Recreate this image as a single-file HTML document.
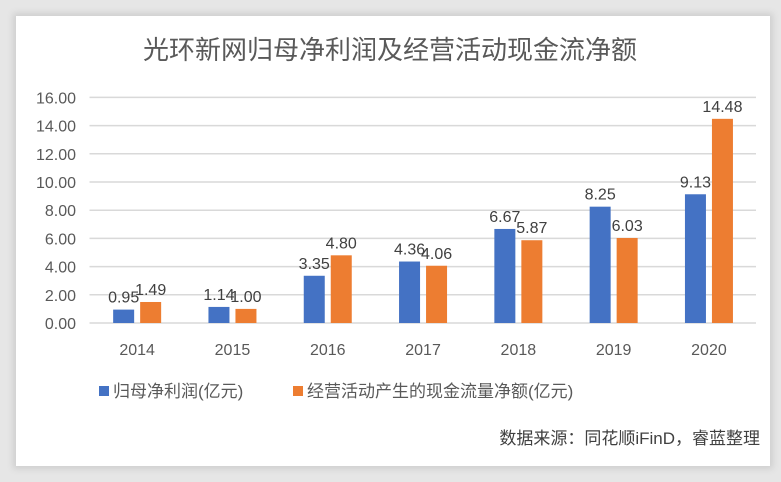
<!DOCTYPE html>
<html><head><meta charset="utf-8"><style>
body{margin:0;width:781px;height:482px;background:#e6e6e6;overflow:hidden;font-family:"Liberation Sans","Noto Sans CJK SC",sans-serif}
#card{position:absolute;left:16px;top:16px;width:754px;height:450px;background:#fff;box-shadow:0 0 6px 3px #cfcfcf}
</style></head><body>
<div id="card"></div>
<svg id="chart" width="781" height="482" style="position:absolute;left:0;top:0">
<text x="390" y="59" text-anchor="middle" font-size="26" fill="#595959" font-family="Liberation Sans, Noto Sans CJK SC, sans-serif">光环新网归母净利润及经营活动现金流净额</text>
<g id="grid"></g><g id="bars"></g><g id="labels"></g>
<rect x="99" y="386" width="10" height="10" fill="#4472c4"/>
<text x="113" y="397" font-size="17" fill="#595959">归母净利润(亿元)</text>
<rect x="293" y="386" width="10" height="10" fill="#ed7d31"/>
<text x="307" y="397" font-size="17" fill="#595959">经营活动产生的现金流量净额(亿元)</text>
<text x="760" y="444" text-anchor="end" font-size="17" fill="#404040">数据来源：同花顺iFinD，睿蓝整理</text>
</svg>
<script>
const categories=["2014","2015","2016","2017","2018","2019","2020"];
const netProfit=[0.95,1.14,3.35,4.36,6.67,8.25,9.13];
const cashFlow=[1.49,1.00,4.80,4.06,5.87,6.03,14.48];
const yTicks=[0,2,4,6,8,10,12,14,16];
const NS="http://www.w3.org/2000/svg";
const x0=89.5,bandW=95.3,y0=323,pxPerUnit=14.1,barW=21;
const yScale=v=>y0-v*pxPerUnit;
const xCenter=i=>x0+bandW*(i+0.5);
function mk(tag,attrs,parent){const e=document.createElementNS(NS,tag);for(const k in attrs)e.setAttribute(k,attrs[k]);document.getElementById(parent).appendChild(e);return e;}
yTicks.forEach(t=>{
 const l=mk("line",{x1:x0,x2:756,y1:yScale(t),y2:yScale(t),stroke:"#d9d9d9","stroke-width":1.5},"grid");
 
 
 const tx=mk("text",{x:76,y:yScale(t)+6,"text-anchor":"end","font-size":16,fill:"#595959"},"grid");
 tx.textContent=t.toFixed(2);
 
 
});
categories.forEach((c,i)=>{
 const cx=xCenter(i);
 const tx=mk("text",{x:cx,y:355,"text-anchor":"middle","font-size":16,fill:"#595959"},"labels");
 tx.textContent=c;
 
 
 [[netProfit,"#4472c4",-barW-3,'bar-net-profit'],[cashFlow,"#ed7d31",3,'bar-cash-flow']].forEach(([arr,col,off,nm])=>{
  const v=arr[i];
  const r=mk("rect",{x:cx+off,y:yScale(v),width:barW,height:v*pxPerUnit,fill:col},"bars");
  
  
  const lt=mk("text",{x:cx+off+barW/2,y:yScale(v)-7,"text-anchor":"middle","font-size":16,fill:"#404040"},"labels");
  lt.textContent=v.toFixed(2);
  
  
 });
});
</script>
</body></html>
